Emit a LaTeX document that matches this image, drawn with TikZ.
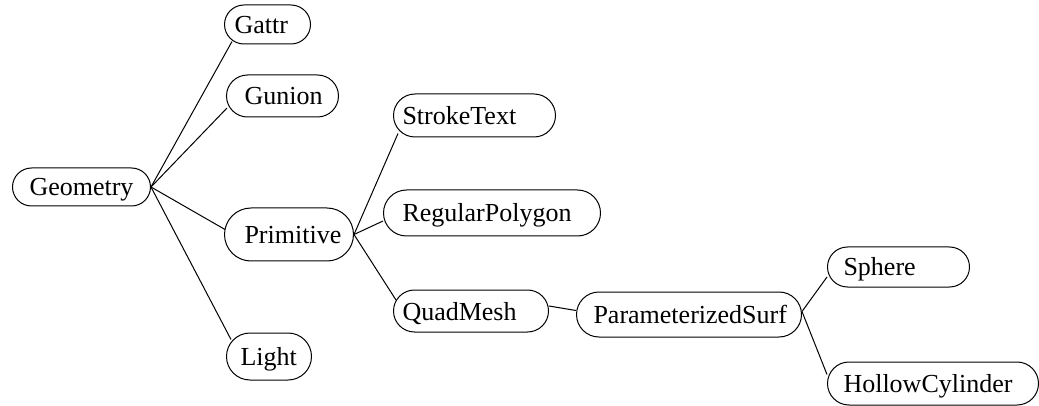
\documentclass[tikz,border=0pt]{standalone}
\usepackage{fontspec}
\setmainfont{Liberation Serif}
\usepackage{tikz}
\tikzset{cls/.style={draw=black, line width=1pt, anchor=west,
    inner ysep=0pt, text height=23pt, text depth=5pt,
    font=\fontsize{26}{30}\selectfont}}

\begin{document}
\begin{tikzpicture}[x=1pt,y=-1pt]
                \useasboundingbox (0,0) rectangle (1039,406);

                \node[cls, minimum width=138, minimum height=38, rounded corners=19, inner xsep=17] (G) at (12,187) {\makebox[104pt][l]{Geometry}};
                \node[cls, minimum width=86, minimum height=39, rounded corners=19.5, inner xsep=10] (GA) at (224,24.5) {\makebox[66pt][l]{Gattr}};
                \node[cls, minimum width=112, minimum height=42, rounded corners=21, inner xsep=18] (GU) at (226,96) {\makebox[76pt][l]{Gunion}};
                \node[cls, minimum width=129, minimum height=53, rounded corners=26.5, inner xsep=20] (P) at (224,234.5) {\makebox[89pt][l]{Primitive}};
                \node[cls, minimum width=85, minimum height=47, rounded corners=23.5, inner xsep=14] (L) at (226,356.5) {\makebox[57pt][l]{Light}};
                \node[cls, minimum width=162, minimum height=43, rounded corners=21.5, inner xsep=9] (ST) at (393,115.5) {\makebox[144pt][l]{StrokeText}};
                \node[cls, minimum width=217, minimum height=46, rounded corners=23, inner xsep=19] (RP) at (383,213) {\makebox[179pt][l]{RegularPolygon}};
                \node[cls, minimum width=155, minimum height=42, rounded corners=21, inner xsep=9] (QM) at (393,311) {\makebox[137pt][l]{QuadMesh}};
                \node[cls, minimum width=225, minimum height=45, rounded corners=22.5, inner xsep=17] (PS) at (576,314.5) {\makebox[191pt][l]{ParameterizedSurf}};
                \node[cls, minimum width=142, minimum height=40, rounded corners=20, inner xsep=16] (S) at (827,267) {\makebox[110pt][l]{Sphere}};
                \node[cls, minimum width=211, minimum height=43, rounded corners=21.5, inner xsep=16] (HC) at (827,383.5) {\makebox[179pt][l]{HollowCylinder}};

                \draw[line width=1pt] (G.east) -- ([xshift=8,yshift=-17]GA.west);
                \draw[line width=1pt] (G.east) -- ([xshift=1,yshift=-12]GU.west);
                \draw[line width=1pt] (G.east) -- ([xshift=1,yshift=5]P.west);
                \draw[line width=1pt] (G.east) -- ([xshift=5,yshift=17]L.west);
                \draw[line width=1pt] (P.east) -- ([xshift=5,yshift=-18]ST.west);
                \draw[line width=1pt] (P.east) -- ([yshift=-8]RP.west);
                \draw[line width=1pt] (P.east) -- ([xshift=3,yshift=11]QM.west);
                \draw[line width=1pt] ([yshift=5]QM.east) -- ([yshift=4]PS.west);
                \draw[line width=1pt] ([yshift=3]PS.east) -- ([yshift=-10]S.west);
                \draw[line width=1pt] ([yshift=3]PS.east) -- ([yshift=9]HC.west);

            \end{tikzpicture}
\end{document}
